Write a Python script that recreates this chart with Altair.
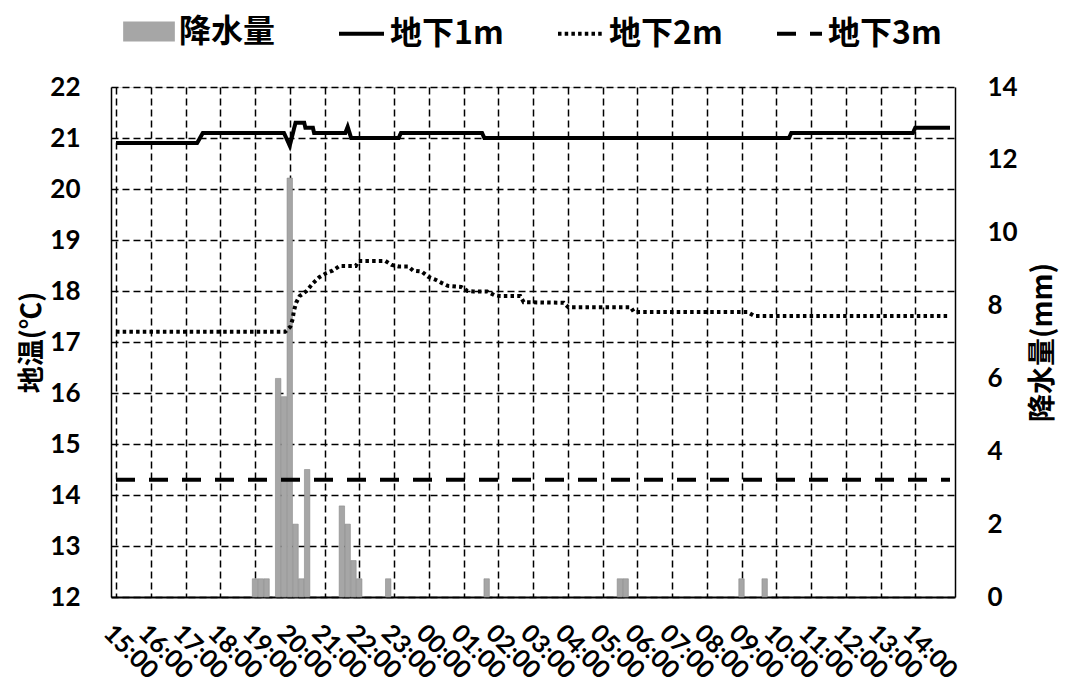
import altair as alt
import pandas as pd

# ---- data (times as "day HH:MM"; day 1 = first day, day 2 = next day) ----
rain_time = ["1 19:00", "1 19:10", "1 19:20", "1 19:40", "1 19:50", "1 20:00",
             "1 20:10", "1 20:20", "1 20:30", "1 21:30", "1 21:40", "1 21:50",
             "1 22:00", "1 22:50", "2 01:40", "2 05:30", "2 05:40", "2 09:00",
             "2 09:40"]
rain_mm = [0.5, 0.5, 0.5, 6.0, 5.5, 11.5, 2.0, 0.5, 3.5, 2.5, 2.0, 1.0,
           0.5, 0.5, 0.5, 0.5, 0.5, 0.5, 0.5]

d1_time = ["1 15:00", "1 17:20", "1 17:30", "1 19:50", "1 20:00", "1 20:10",
           "1 20:25", "1 20:27", "1 20:40", "1 20:42", "1 21:36", "1 21:40",
           "1 21:46", "1 23:08", "1 23:12", "2 01:32", "2 01:36", "2 10:22",
           "2 10:26", "2 13:56", "2 14:00", "2 15:00"]
d1_temp = [20.9, 20.9, 21.1, 21.1, 20.85, 21.3, 21.3, 21.2, 21.2, 21.1, 21.1,
           21.22, 21.0, 21.0, 21.1, 21.1, 21.0, 21.0, 21.1, 21.1, 21.2, 21.2]

d2_time = ["1 15:00", "1 19:52", "1 20:01", "1 20:05", "1 20:07", "1 20:11",
           "1 20:17", "1 20:29", "1 20:40", "1 20:51", "1 21:03", "1 21:14",
           "1 21:26", "1 21:54", "1 21:59", "1 22:45", "1 22:56", "1 23:08",
           "1 23:25", "1 23:33", "1 23:48", "1 23:59", "2 00:10", "2 00:22",
           "2 00:33", "2 00:56", "2 01:07", "2 01:17", "2 01:41", "2 01:53",
           "2 02:04", "2 02:38", "2 02:44", "2 03:53", "2 04:01", "2 05:49",
           "2 05:54", "2 09:10", "2 09:22", "2 15:00"]
d2_temp = [17.2, 17.2, 17.3, 17.45, 17.6, 17.77, 17.9, 18.0, 18.15, 18.27,
           18.35, 18.4, 18.49, 18.49, 18.59, 18.59, 18.51, 18.48, 18.48, 18.4,
           18.38, 18.28, 18.23, 18.16, 18.1, 18.08, 18.0, 17.99, 17.99, 17.92,
           17.9, 17.9, 17.78, 17.77, 17.68, 17.68, 17.59, 17.59, 17.51, 17.51]

d3_time = ["1 15:00", "2 15:00"]
d3_temp = [14.3, 14.3]

series_names = ["地下1m", "地下2m", "地下3m"]
rain_name = "降水量"


def ts(s):
    d, hm = s.split()
    return f"2020-07-0{d}T{hm}:00"


rain_df = pd.DataFrame({"t": [ts(s) for s in rain_time], "mm": rain_mm,
                        "lab": rain_name})
line_df = pd.concat([
    pd.DataFrame({"t": [ts(s) for s in tl], "v": vl, "series": nm})
    for tl, vl, nm in [(d1_time, d1_temp, series_names[0]),
                       (d2_time, d2_temp, series_names[1]),
                       (d3_time, d3_temp, series_names[2])]
], ignore_index=True)

hour_ticks = ([alt.DateTime(year=2020, month=7, date=1, hours=h) for h in range(15, 24)] +
              [alt.DateTime(year=2020, month=7, date=2, hours=h) for h in range(0, 15)])

x_scale = alt.Scale(domain=[alt.DateTime(year=2020, month=7, date=1, hours=15),
                            alt.DateTime(year=2020, month=7, date=2, hours=15)])

NUM_FONT = "Lato"
CJK_FONT = "Noto Sans CJK SC"

x_axis = alt.Axis(values=hour_ticks, format="%H:%M", title=None,
                  labelAngle=45, labelAlign="left", labelBaseline="top",
                  labelPadding=23, labelFont=NUM_FONT, labelFontSize=25,
                  labelFontWeight="bold", labelColor="black", ticks=False,
                  grid=True, gridColor="black", gridDash=[7, 4], gridWidth=1.5,
                  gridOpacity=1, domainColor="black", domainWidth=2,
                  labelOverlap=False, labelFlush=False)

left_axis = alt.Axis(values=list(range(12, 23)), title="地温(℃)", grid=True,
                     gridColor="black", gridDash=[7, 4], gridWidth=1.5, gridOpacity=1,
                     ticks=False, labelPadding=31, labelFont=NUM_FONT,
                     labelFontSize=26, labelFontWeight="bold", labelColor="black",
                     titleFont=CJK_FONT, titleFontSize=27, titleFontWeight="bold",
                     titleColor="black", titlePadding=3, domainColor="black",
                     domainWidth=1.5)

right_axis = alt.Axis(values=list(range(0, 15, 2)), title="降水量(mm)", orient="right",
                      grid=False, ticks=False, labelPadding=32, labelFont=NUM_FONT,
                      labelFontSize=26, labelFontWeight="bold", labelColor="black",
                      titleFont=CJK_FONT, titleFontSize=28, titleFontWeight="bold",
                      titleColor="black", titlePadding=12, titleAngle=270,
                      titleBaseline="top", domainColor="black", domainWidth=1.5)

bars = alt.Chart(rain_df).mark_bar(size=5.4, stroke="#8a8a8a", strokeWidth=0.6).encode(
    x=alt.X("t:T", scale=x_scale, axis=x_axis),
    y=alt.Y("mm:Q", scale=alt.Scale(domain=[0, 14]), axis=right_axis),
    fill=alt.Fill("lab:N", scale=alt.Scale(domain=[rain_name], range=["#a6a6a6"]),
                  legend=alt.Legend(title=None, orient="none", legendX=14.5, legendY=-79,
                                    symbolType="M-1.1,-0.425H1.1V0.425H-1.1Z",
                                    symbolSize=2209, symbolStrokeWidth=0,
                                    labelFont=CJK_FONT, labelFontSize=32,
                                    labelFontWeight="bold", labelColor="black",
                                    labelLimit=400, labelOffset=6.5, padding=0,
                                    direction="horizontal")),
)

lines = alt.Chart(line_df).mark_line(color="black", strokeWidth=4).encode(
    x=alt.X("t:T", scale=x_scale, axis=x_axis),
    y=alt.Y("v:Q", scale=alt.Scale(domain=[12, 22]), axis=left_axis),
    strokeDash=alt.StrokeDash(
        "series:N",
        scale=alt.Scale(domain=series_names, range=[[1, 0], [3.5, 3.2], [19, 14]]),
        legend=alt.Legend(title=None, orient="none", legendX=226, legendY=-78,
                          direction="horizontal", symbolType="stroke",
                          symbolSize=2025, symbolStrokeWidth=4,
                          symbolStrokeColor="black", labelFont=CJK_FONT,
                          labelFontSize=32, labelFontWeight="bold",
                          labelColor="black", labelLimit=400, labelOffset=4,
                          columnPadding=46, padding=0)),
)

chart = alt.layer(bars, lines).resolve_scale(y="independent").properties(
    width=844, height=510,
    padding={"left": 10, "top": 0, "right": 3, "bottom": 0},
).configure_view(stroke="black", strokeWidth=1.5).configure(background="white")

chart.save("out.html", embed_options={"renderer": "svg", "actions": False})
